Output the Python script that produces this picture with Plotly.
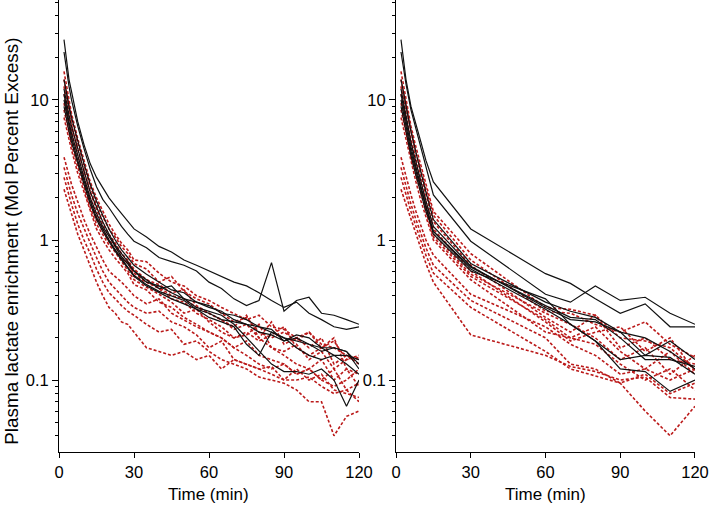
import plotly.graph_objects as go

# ---------------- data ----------------
t_left = [2, 3, 4, 5, 7.5, 10, 12.5, 15, 17.5, 20, 22.5, 25, 27.5, 30,
          35, 40, 45, 50, 55, 60, 65, 70, 75, 80, 85, 90, 95, 100, 105, 110, 115, 120]
t_right = [2, 4, 6, 8, 10, 12, 15, 30, 60, 70, 80, 90, 100, 110, 120]

left_black = [
    [27, 19, 14, 11.5, 7, 4.8, 3.5, 2.8, 2.35, 2.0, 1.75, 1.55, 1.35, 1.2,
     1.05, 0.9, 0.82, 0.72, 0.66, 0.6, 0.55, 0.5, 0.47, 0.42, 0.37, 0.33, 0.36, 0.3, 0.27, 0.24, 0.23, 0.24],
    [22, 16, 12.5, 10, 6.5, 4.5, 3.2, 2.4, 1.95, 1.7, 1.45, 1.25, 1.1, 0.98,
     0.88, 0.75, 0.7, 0.66, 0.6, 0.5, 0.45, 0.38, 0.34, 0.37, 0.69, 0.31, 0.37, 0.39, 0.3, 0.29, 0.27, 0.25],
    [14, 11, 9, 7.5, 5, 3.5, 2.5, 1.9, 1.5, 1.2, 1.0, 0.85, 0.75, 0.66,
     0.57, 0.5, 0.44, 0.42, 0.36, 0.34, 0.3, 0.29, 0.27, 0.24, 0.22, 0.2, 0.19, 0.18, 0.17, 0.15, 0.15, 0.14],
    [12, 9.5, 7.8, 6.5, 4.4, 3.1, 2.2, 1.7, 1.35, 1.1, 0.92, 0.8, 0.7, 0.6,
     0.52, 0.45, 0.47, 0.38, 0.36, 0.33, 0.31, 0.27, 0.25, 0.24, 0.23, 0.19, 0.21, 0.2, 0.17, 0.17, 0.16, 0.12],
    [11, 8.5, 7, 5.8, 4, 2.8, 2.0, 1.55, 1.25, 1.05, 0.9, 0.76, 0.68, 0.6,
     0.5, 0.47, 0.42, 0.38, 0.33, 0.31, 0.29, 0.25, 0.2, 0.16, 0.13, 0.115, 0.115, 0.11, 0.12, 0.1, 0.065, 0.1],
    [10, 8, 6.5, 5.4, 3.7, 2.6, 1.9, 1.45, 1.2, 1.0, 0.85, 0.73, 0.64, 0.56,
     0.48, 0.43, 0.4, 0.37, 0.32, 0.28, 0.26, 0.24, 0.18, 0.15, 0.22, 0.2, 0.17, 0.15, 0.14, 0.15, 0.13, 0.11],
    [9, 7.2, 6, 5, 3.5, 2.5, 1.8, 1.4, 1.15, 0.97, 0.83, 0.72, 0.63, 0.55,
     0.47, 0.42, 0.38, 0.35, 0.32, 0.3, 0.27, 0.26, 0.25, 0.22, 0.21, 0.19, 0.2, 0.18, 0.16, 0.17, 0.16, 0.13],
]

left_red = [
    [16, 12.5, 10, 8, 5.3, 3.7, 2.6, 2.0, 1.6, 1.3, 1.1, 0.95, 0.85, 0.72,
     0.7, 0.58, 0.5, 0.47, 0.4, 0.37, 0.33, 0.3, 0.27, 0.29, 0.24, 0.23, 0.2, 0.22, 0.18, 0.17, 0.15, 0.14],
    [14, 11, 9, 7.3, 4.9, 3.4, 2.4, 1.8, 1.45, 1.2, 1.05, 0.9, 0.8, 0.68,
     0.62, 0.5, 0.55, 0.43, 0.38, 0.35, 0.3, 0.26, 0.28, 0.22, 0.2, 0.22, 0.19, 0.22, 0.17, 0.19, 0.14, 0.145],
    [12.5, 10, 8, 6.6, 4.4, 3.1, 2.2, 1.65, 1.3, 1.1, 0.95, 0.8, 0.72, 0.62,
     0.52, 0.48, 0.42, 0.44, 0.34, 0.3, 0.27, 0.24, 0.29, 0.2, 0.26, 0.18, 0.2, 0.17, 0.2, 0.13, 0.15, 0.13],
    [11, 9, 7.3, 6, 4, 2.8, 2.0, 1.5, 1.2, 1.0, 0.9, 0.76, 0.68, 0.58,
     0.5, 0.45, 0.38, 0.36, 0.3, 0.27, 0.24, 0.2, 0.22, 0.19, 0.21, 0.24, 0.17, 0.15, 0.17, 0.2, 0.12, 0.11],
    [9.5, 7.8, 6.4, 5.3, 3.6, 2.6, 1.85, 1.4, 1.15, 0.97, 0.85, 0.72, 0.7, 0.55,
     0.5, 0.46, 0.4, 0.38, 0.33, 0.3, 0.27, 0.23, 0.25, 0.2, 0.17, 0.16, 0.18, 0.14, 0.16, 0.12, 0.14, 0.15],
    [8.5, 7, 5.8, 4.8, 3.3, 2.4, 1.7, 1.3, 1.1, 0.92, 0.82, 0.7, 0.6, 0.52,
     0.46, 0.41, 0.36, 0.3, 0.32, 0.26, 0.22, 0.2, 0.21, 0.25, 0.17, 0.15, 0.13, 0.12, 0.14, 0.1, 0.12, 0.09],
    [7.5, 6.2, 5.2, 4.4, 3.0, 2.2, 1.6, 1.2, 1.0, 0.85, 0.74, 0.65, 0.58, 0.48,
     0.44, 0.36, 0.33, 0.28, 0.25, 0.22, 0.2, 0.17, 0.19, 0.15, 0.14, 0.13, 0.11, 0.12, 0.1, 0.12, 0.085, 0.07],
    [3.9, 3.3, 2.9, 2.5, 1.85, 1.4, 1.1, 0.88, 0.72, 0.6, 0.55, 0.5, 0.45, 0.4,
     0.35, 0.38, 0.3, 0.27, 0.24, 0.22, 0.2, 0.17, 0.15, 0.13, 0.12, 0.13, 0.11, 0.12, 0.1, 0.09, 0.1, 0.12],
    [3.3, 2.8, 2.4, 2.1, 1.55, 1.2, 0.95, 0.75, 0.6, 0.5, 0.45, 0.4, 0.36, 0.33,
     0.3, 0.31, 0.26, 0.24, 0.21, 0.17, 0.19, 0.14, 0.13, 0.12, 0.125, 0.1, 0.1, 0.105, 0.09, 0.08, 0.085, 0.095],
    [2.8, 2.4, 2.1, 1.8, 1.3, 1.0, 0.8, 0.62, 0.5, 0.42, 0.38, 0.34, 0.31, 0.29,
     0.25, 0.22, 0.23, 0.18, 0.19, 0.16, 0.14, 0.13, 0.12, 0.105, 0.1, 0.095, 0.085, 0.07, 0.07, 0.04, 0.055, 0.06],
    [2.3, 2.0, 1.75, 1.5, 1.1, 0.85, 0.65, 0.5, 0.4, 0.33, 0.3, 0.26, 0.25, 0.22,
     0.17, 0.16, 0.15, 0.16, 0.14, 0.15, 0.12, 0.14, 0.13, 0.12, 0.11, 0.1, 0.12, 0.1, 0.11, 0.085, 0.08, 0.075],
]

right_black = [
    [27, 14, 9, 6.8, 5, 3.7, 2.6, 1.2, 0.575, 0.49, 0.38, 0.30, 0.35, 0.24, 0.24],
    [22, 13, 8.5, 6.2, 4.6, 3.3, 2.1, 0.98, 0.41, 0.36, 0.47, 0.37, 0.39, 0.30, 0.25],
    [14, 9, 6, 4.2, 3.0, 2.2, 1.4, 0.68, 0.36, 0.31, 0.28, 0.22, 0.15, 0.19, 0.14],
    [12, 7.5, 5, 3.6, 2.6, 1.9, 1.25, 0.65, 0.33, 0.27, 0.26, 0.22, 0.20, 0.16, 0.12],
    [11, 7, 4.6, 3.3, 2.4, 1.75, 1.15, 0.62, 0.32, 0.25, 0.19, 0.14, 0.15, 0.145, 0.11],
    [10, 6.5, 4.3, 3.1, 2.3, 1.7, 1.1, 0.6, 0.38, 0.25, 0.19, 0.12, 0.115, 0.083, 0.10],
    [9, 6, 4, 2.9, 2.2, 1.6, 1.15, 0.64, 0.34, 0.28, 0.27, 0.2, 0.14, 0.14, 0.125],
]

right_red = [
    [16, 10, 6.5, 4.6, 3.4, 2.5, 1.6, 0.8, 0.33, 0.32, 0.29, 0.2, 0.19, 0.17, 0.12],
    [14, 9, 6, 4.2, 3.1, 2.3, 1.5, 0.72, 0.31, 0.3, 0.25, 0.22, 0.26, 0.18, 0.145],
    [12.5, 8, 5.3, 3.8, 2.8, 2.1, 1.35, 0.66, 0.28, 0.22, 0.29, 0.17, 0.2, 0.14, 0.13],
    [11, 7.2, 4.8, 3.4, 2.5, 1.9, 1.2, 0.6, 0.26, 0.19, 0.22, 0.24, 0.16, 0.2, 0.115],
    [9.5, 6.5, 4.4, 3.2, 2.3, 1.75, 1.1, 0.57, 0.3, 0.25, 0.2, 0.14, 0.17, 0.11, 0.15],
    [8.5, 5.8, 4, 2.9, 2.1, 1.6, 1.05, 0.55, 0.27, 0.2, 0.24, 0.16, 0.12, 0.16, 0.11],
    [7.5, 5.2, 3.6, 2.6, 1.9, 1.45, 1.0, 0.52, 0.22, 0.2, 0.18, 0.13, 0.1, 0.12, 0.085],
    [3.9, 2.8, 2.1, 1.6, 1.25, 1.0, 0.78, 0.41, 0.24, 0.18, 0.15, 0.11, 0.12, 0.1, 0.12],
    [3.3, 2.4, 1.8, 1.4, 1.1, 0.88, 0.66, 0.37, 0.2, 0.13, 0.12, 0.095, 0.11, 0.08, 0.095],
    [2.8, 2.1, 1.6, 1.25, 0.98, 0.78, 0.58, 0.33, 0.16, 0.12, 0.107, 0.095, 0.06, 0.04, 0.065],
    [2.3, 1.8, 1.4, 1.1, 0.85, 0.68, 0.5, 0.21, 0.15, 0.125, 0.115, 0.1, 0.105, 0.075, 0.073],
]

y_major = [0.1, 1, 10]
y_major_text = ["0.1", "1", "10"]
y_minor = [m * 10.0 ** e for e in (-2, -1, 0, 1) for m in range(2, 10)]
x_ticks = [0, 30, 60, 90, 120]

# ---------------- figure ----------------
RED = "#bb1a1a"
BLACK = "#111111"
fig = go.Figure()

for xa, ya, tt, reds, blacks in (("x", "y", t_left, left_red, left_black),
                                 ("x2", "y2", t_right, right_red, right_black)):
    for s in reds:
        fig.add_trace(go.Scatter(x=tt, y=s, mode="lines", xaxis=xa, yaxis=ya,
                                 line=dict(color=RED, width=1.6, dash="3px,2px"),
                                 showlegend=False, hoverinfo="skip"))
    for s in blacks:
        fig.add_trace(go.Scatter(x=tt, y=s, mode="lines", xaxis=xa, yaxis=ya,
                                 line=dict(color=BLACK, width=1.2),
                                 showlegend=False, hoverinfo="skip"))

FONT = "Liberation Sans, Arial, sans-serif"
xcommon = dict(range=[0, 120], tickvals=x_ticks, ticks="outside", ticklen=5,
               tickwidth=1, tickcolor="black", showline=True, linecolor="black",
               linewidth=1, showgrid=False, zeroline=False, automargin=False,
               tickfont=dict(size=16.5, color="black", family=FONT))
ycommon = dict(type="log", range=[-1.514, 1.714], tickvals=y_major,
               ticktext=y_major_text, ticks="outside", ticklen=6, tickwidth=1,
               tickcolor="black", showline=True, linecolor="black", linewidth=1,
               showgrid=False, zeroline=False, automargin=False,
               minor=dict(tickvals=y_minor, ticks="outside", ticklen=3,
                          tickwidth=1, tickcolor="black", showgrid=False),
               tickfont=dict(size=16.5, color="black", family=FONT))

fig.update_layout(
    width=709, height=505,
    margin=dict(l=59, r=14, t=0, b=53, autoexpand=False),
    paper_bgcolor="white", plot_bgcolor="white",
    font=dict(family=FONT, color="black"),
    xaxis=dict(domain=[0, 0.4717], anchor="y", **xcommon),
    xaxis2=dict(domain=[0.5299, 1], anchor="y2", **xcommon),
    yaxis=dict(domain=[0, 1], anchor="x", **ycommon),
    yaxis2=dict(domain=[0, 1], anchor="x2", **ycommon),
    annotations=[
        dict(text="Plasma lactate enrichment (Mol Percent Excess)", textangle=-90,
             xref="paper", yref="paper", x=-0.074, y=0.467, xanchor="center",
             yanchor="middle", showarrow=False, font=dict(size=18.9, family=FONT)),
        dict(text="Time (min)", xref="paper", yref="paper", x=0.2358, y=-0.095,
             xanchor="center", yanchor="middle", showarrow=False,
             font=dict(size=17, family=FONT)),
        dict(text="Time (min)", xref="paper", yref="paper", x=0.765, y=-0.095,
             xanchor="center", yanchor="middle", showarrow=False,
             font=dict(size=17, family=FONT)),
    ],
)

fig.write_html("out.html", config={"displayModeBar": False},
               post_script="document.body.style.margin='0px';document.body.style.overflow='hidden';")
